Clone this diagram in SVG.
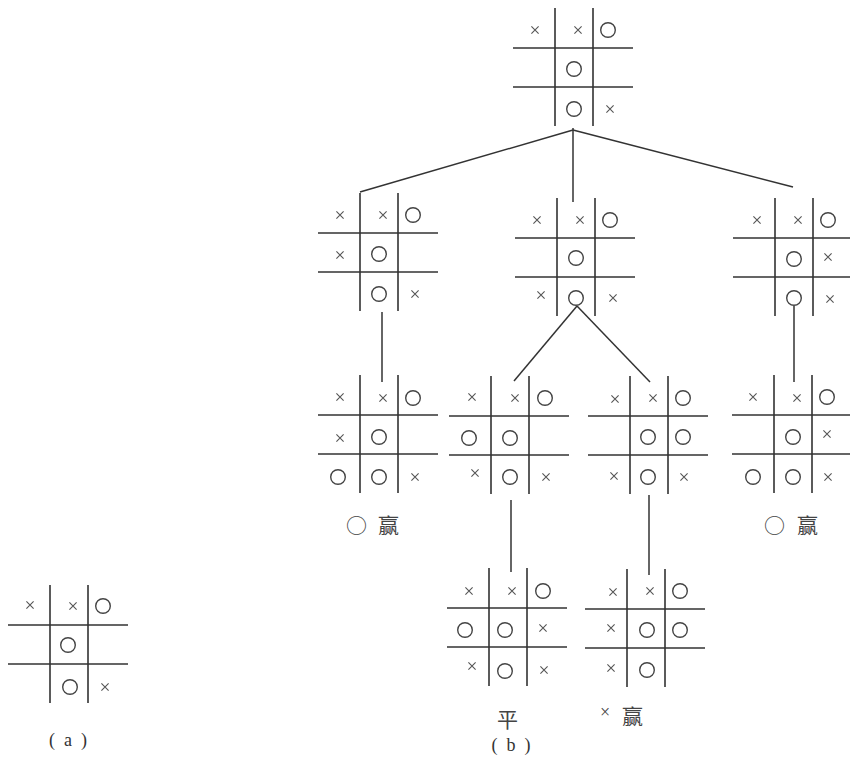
<svg xmlns="http://www.w3.org/2000/svg" xmlns:xlink="http://www.w3.org/1999/xlink" width="850" height="769" viewBox="0 0 850 769">
<style>
.board{stroke:#333;fill:none}
.links{stroke:#333;stroke-width:1.5;fill:none}
.lbl{font-family:"Noto Sans CJK SC","Noto Sans",sans-serif;font-size:21px;fill:#444}
.sub{font-family:"Liberation Serif",serif;font-size:18px;fill:#333}
</style>
<defs>
<path id="grid" d="M0,40H120M0,79H120M42,0V118M80,0V118" stroke-width="1.6"/>
<path id="X" d="M-3.6,-3.6L3.6,3.6M3.6,-3.6L-3.6,3.6" stroke="#555" stroke-width="1.1"/>
<circle id="O" r="7.3" stroke="#444" stroke-width="1.4"/>
</defs>
<rect width="850" height="769" fill="#fff"/>

<g id="connectors" class="links">
<path d="M573,130L360,192"/>
<path d="M573,128V202"/>
<path d="M573,130L793,187"/>
<path d="M382,312V382"/>
<path d="M577,306L514,381"/>
<path d="M577,306L650,382"/>
<path d="M794,306V382"/>
<path d="M511,500V572"/>
<path d="M649,495V575"/>
</g>

<g id="board-top" class="board" transform="translate(513,8)">
<use href="#grid"/>
<use href="#X" x="22" y="22"/><use href="#X" x="65" y="22"/><use href="#O" x="95" y="22"/>
<use href="#O" x="61" y="61"/>
<use href="#O" x="61" y="101"/><use href="#X" x="97" y="101"/>
</g>

<g id="board-l" class="board" transform="translate(318,193)">
<use href="#grid"/>
<use href="#X" x="22" y="22"/><use href="#X" x="65" y="22"/><use href="#O" x="95" y="22"/>
<use href="#X" x="22" y="62"/><use href="#O" x="61" y="61"/>
<use href="#O" x="61" y="101"/><use href="#X" x="97" y="101"/>
</g>

<g id="board-m" class="board" transform="translate(515,198)">
<use href="#grid"/>
<use href="#X" x="22" y="22"/><use href="#X" x="65" y="22"/><use href="#O" x="95" y="22"/>
<use href="#O" x="61" y="60"/>
<use href="#X" x="26" y="97"/><use href="#O" x="61" y="100"/><use href="#X" x="98" y="100"/>
</g>

<g id="board-r" class="board" transform="translate(733,198)">
<use href="#grid"/>
<use href="#X" x="24" y="22"/><use href="#X" x="65" y="22"/><use href="#O" x="95" y="22"/>
<use href="#O" x="61" y="61"/><use href="#X" x="95" y="59"/>
<use href="#O" x="61" y="100"/><use href="#X" x="97" y="101"/>
</g>

<g id="board-ll" class="board" transform="translate(318,375)">
<use href="#grid"/>
<use href="#X" x="22" y="22"/><use href="#X" x="65" y="23"/><use href="#O" x="95" y="23"/>
<use href="#X" x="22" y="63"/><use href="#O" x="61" y="62"/>
<use href="#O" x="20" y="102"/><use href="#O" x="61" y="102"/><use href="#X" x="97" y="102"/>
</g>

<g id="board-ml" class="board" transform="translate(449,376)">
<use href="#grid"/>
<use href="#X" x="23" y="21"/><use href="#X" x="66" y="22"/><use href="#O" x="96" y="22"/>
<use href="#O" x="20" y="62"/><use href="#O" x="61" y="62"/>
<use href="#X" x="26" y="97"/><use href="#O" x="61" y="101"/><use href="#X" x="97" y="101"/>
</g>

<g id="board-mr" class="board" transform="translate(588,376)">
<use href="#grid"/>
<use href="#X" x="27" y="23"/><use href="#X" x="65" y="22"/><use href="#O" x="95" y="22"/>
<use href="#O" x="60" y="61"/><use href="#O" x="95" y="61"/>
<use href="#X" x="26" y="100"/><use href="#O" x="60" y="101"/><use href="#X" x="96" y="101"/>
</g>

<g id="board-rr" class="board" transform="translate(732,375)">
<use href="#grid"/>
<use href="#X" x="21" y="22"/><use href="#X" x="65" y="23"/><use href="#O" x="95" y="22"/>
<use href="#O" x="61" y="62"/><use href="#X" x="95" y="59"/>
<use href="#O" x="21" y="102"/><use href="#O" x="61" y="102"/><use href="#X" x="96" y="102"/>
</g>

<g id="board-bl" class="board" transform="translate(447,568)">
<use href="#grid"/>
<use href="#X" x="22" y="23"/><use href="#X" x="65" y="23"/><use href="#O" x="96" y="23"/>
<use href="#O" x="18" y="62"/><use href="#O" x="58" y="62"/><use href="#X" x="96" y="60"/>
<use href="#X" x="25" y="98"/><use href="#O" x="58" y="103"/><use href="#X" x="97" y="102"/>
</g>

<g id="board-br" class="board" transform="translate(585,569)">
<use href="#grid"/>
<use href="#X" x="28" y="23"/><use href="#X" x="65" y="22"/><use href="#O" x="95" y="22"/>
<use href="#X" x="26" y="59"/><use href="#O" x="62" y="61"/><use href="#O" x="95" y="61"/>
<use href="#X" x="26" y="99"/><use href="#O" x="62" y="101"/>
</g>

<g id="board-a" class="board" transform="translate(8,585)">
<use href="#grid"/>
<use href="#X" x="22" y="20"/><use href="#X" x="65" y="21"/><use href="#O" x="95" y="21"/>
<use href="#O" x="60" y="60"/>
<use href="#O" x="62" y="102"/><use href="#X" x="97" y="102"/>
</g>

<g id="labels">
<text class="lbl" x="346" y="533">○<tspan x="378">赢</tspan></text>
<text class="lbl" x="764" y="533">○<tspan x="797">赢</tspan></text>
<text class="lbl" x="497" y="727">平</text>
<text class="lbl" y="724"><tspan x="600" y="718" style="font-family:'Liberation Serif',serif;font-size:18px">×</tspan><tspan x="622" y="724">赢</tspan></text>
<text class="sub" x="68" y="746" text-anchor="middle" xml:space="preserve">(  a  )</text>
<text class="sub" x="511" y="751" text-anchor="middle" xml:space="preserve">(  b  )</text>
</g>
</svg>
